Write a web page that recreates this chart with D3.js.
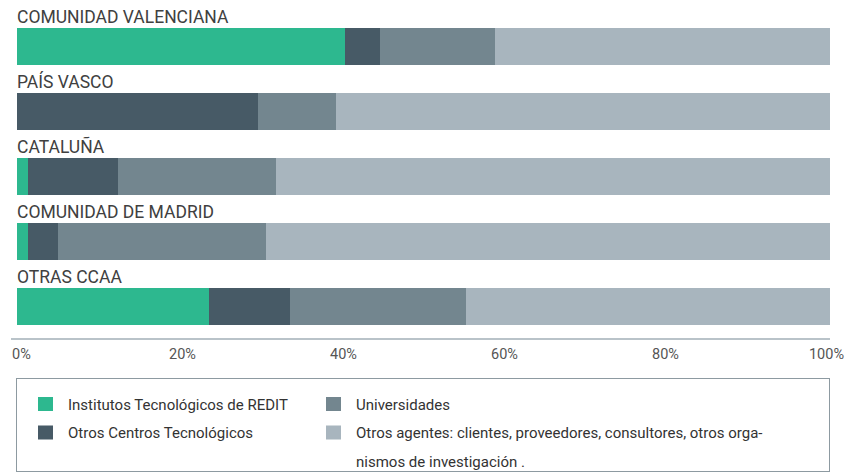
<!DOCTYPE html>
<html>
<head>
<meta charset="utf-8">
<script src="https://cdn.jsdelivr.net/npm/d3@7"></script>
<style>
  body { margin: 0; background: #fff; }
  svg { display: block; font-family: Roboto, "DejaVu Sans", sans-serif; }
</style>
</head>
<body>
<svg width="847" height="472"></svg>
<script>
// regiones (filas) y agentes (series), en %
var regions = ["COMUNIDAD VALENCIANA", "PAÍS VASCO", "CATALUÑA", "COMUNIDAD DE MADRID", "OTRAS CCAA"];
var agents = ["redit", "otrosCT", "univ", "otros"];
var redit   = [40.3,  0.0,  1.4,  1.4, 23.6];
var otrosCT = [ 4.4, 29.6, 11.0,  3.7, 10.0];
var univ    = [14.1,  9.6, 19.4, 25.5, 21.6];
var otros   = [41.2, 60.8, 68.2, 69.4, 44.8];
var ticks = [0, 20, 40, 60, 80, 100];
var legendLabels = [
  "Institutos Tecnológicos de REDIT",
  "Otros Centros Tecnológicos",
  "Universidades",
  "Otros agentes: clientes, proveedores, consultores, otros orga-|nismos de investigación ."
];
var colors = ["#2db88f", "#475a66", "#73868f", "#a8b5be"];

var svg = d3.select("svg");

var rows = regions.map(function(r, i) {
  return { region: r, redit: redit[i], otrosCT: otrosCT[i], univ: univ[i], otros: otros[i] };
});

var x = d3.scaleLinear().domain([0, 100]).range([17, 830]);
// barras de 37px cada 65px, la primera empieza en y=28
var y = d3.scaleBand().domain(regions).range([28, 325]).paddingInner(28 / 65).paddingOuter(0);

var color = d3.scaleOrdinal().domain(agents).range(colors);

var series = d3.stack().keys(agents)(rows);

svg.append("g")
  .selectAll("g")
  .data(series)
  .enter().append("g")
    .attr("fill", function(d) { return color(d.key); })
  .selectAll("rect")
  .data(function(d) { return d; })
  .enter().append("rect")
    .attr("x", function(d) { return x(d[0]); })
    .attr("y", function(d) { return y(d.data.region); })
    .attr("width", function(d) { return x(d[1]) - x(d[0]); })
    .attr("height", y.bandwidth())
    .attr("shape-rendering", "crispEdges");

// etiquetas de región
svg.append("g")
  .selectAll("text")
  .data(regions)
  .enter().append("text")
    .attr("x", 17)
    .attr("y", function(d) { return y(d) - 5; })
    .attr("fill", "#404040")
    .style("font-size", "17.5px")
    .text(function(d) { return d; });

// eje
svg.append("line")
  .attr("x1", 11).attr("x2", 830)
  .attr("y1", 339).attr("y2", 339)
  .attr("stroke", "#b9c3c9")
  .attr("stroke-width", 2);

var xLab = d3.scaleLinear().domain([0, 100]).range([21, 826]);
var axis = svg.append("g")
  .attr("transform", "translate(0,349)")
  .call(d3.axisBottom(xLab).tickValues(ticks).tickSize(0).tickPadding(0)
    .tickFormat(function(d) { return d + "%"; }));
axis.select(".domain").remove();
axis.selectAll("text")
  .attr("fill", "#555")
  .style("font-size", "14.5px")
  .style("font-family", "Roboto, sans-serif");

// leyenda
svg.append("rect")
  .attr("x", 16.5).attr("y", 378.5)
  .attr("width", 813).attr("height", 93)
  .attr("fill", "none")
  .attr("stroke", "#8d9aa1");

var legend = svg.append("g")
  .selectAll("g")
  .data(agents)
  .enter().append("g")
    .attr("transform", function(d, i) {
      return "translate(" + (i < 2 ? 38 : 326) + "," + (397 + (i % 2) * 28.5) + ")";
    });

legend.append("rect")
  .attr("width", 15).attr("height", 14)
  .attr("fill", function(d) { return color(d); });

legend.append("text")
  .attr("fill", "#333")
  .style("font-size", "15px")
  .selectAll("tspan")
  .data(function(d, i) { return legendLabels[i].split("|"); })
  .enter().append("tspan")
    .attr("x", 30)
    .attr("y", function(d, j) { return 12.5 + j * 29; })
    .text(function(d) { return d; });
</script>
</body>
</html>
